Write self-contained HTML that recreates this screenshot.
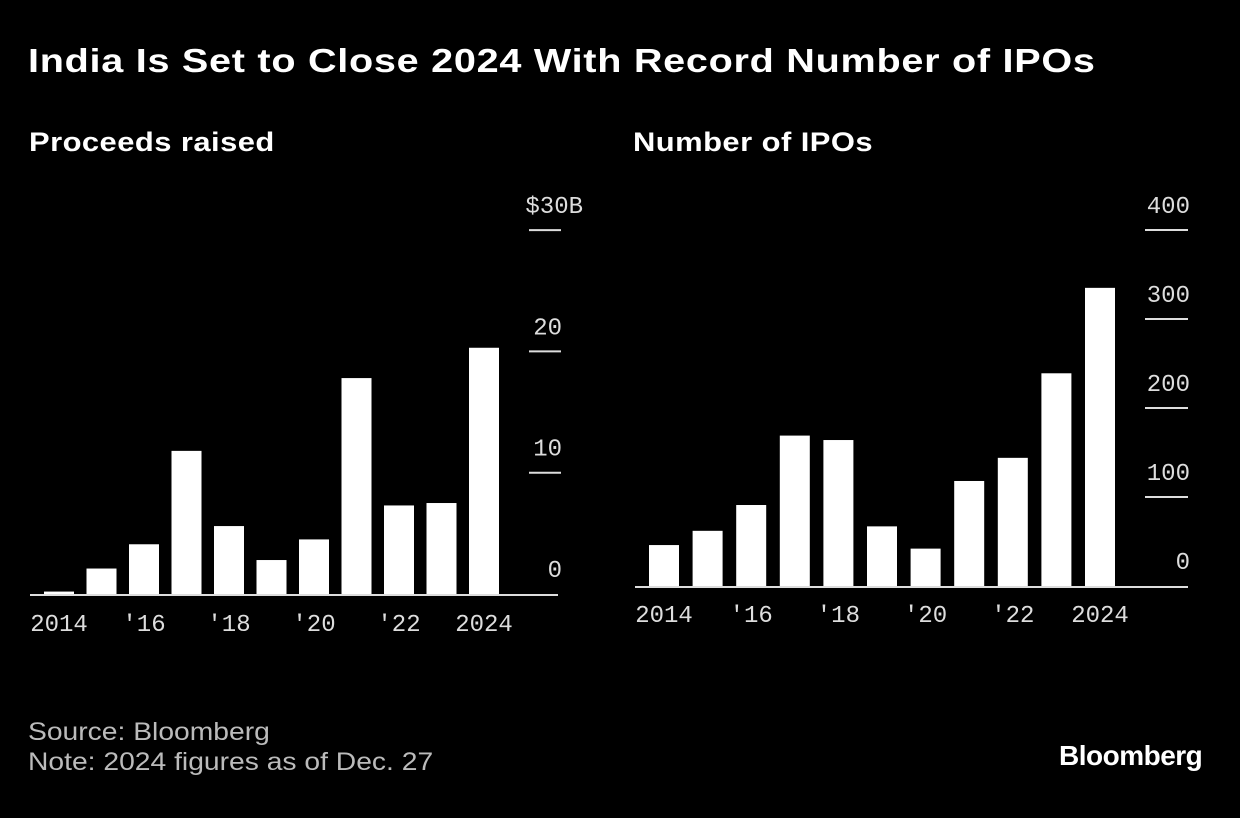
<!DOCTYPE html>
<html><head><meta charset="utf-8"><style>
body{margin:0;background:#000;width:1240px;height:818px;overflow:hidden;font-family:"Liberation Sans",sans-serif;color:#fff}
.t{position:absolute;white-space:nowrap;transform-origin:0 0}
</style></head><body>
<div class="t" style="left:28px;top:42px;font-size:33px;font-weight:bold;letter-spacing:0.6px;transform:scaleX(1.2)">India Is Set to Close 2024 With Record Number of IPOs</div>
<div class="t" style="left:29px;top:127px;font-size:27px;font-weight:bold;letter-spacing:0.4px;transform:scaleX(1.145)">Proceeds raised</div>
<div class="t" style="left:633px;top:127px;font-size:27px;font-weight:bold;letter-spacing:0.4px;transform:scaleX(1.145)">Number of IPOs</div>
<svg width="1240" height="818" style="position:absolute;left:0;top:0" id="svg"></svg>
<div class="t" style="left:28px;top:717px;font-size:25px;color:#bbb;line-height:30px;transform:scaleX(1.13)">Source: Bloomberg<br>Note: 2024 figures as of Dec. 27</div>
<div class="t" style="left:1059px;top:740px;font-size:28px;font-weight:bold;letter-spacing:-0.5px">Bloomberg</div>
<script>
const years=["2014","'15","'16","'17","'18","'19","'20","'21","'22","'23","2024"];
const xLabels=["2014","'16","'18","'20","'22","2024"];
const proceeds=[0.2,2.1,4.1,11.8,5.6,2.8,4.5,17.8,7.3,7.5,20.3];
const ipoCounts=[46,62,91,169,164,67,42,118,144,239,335];
const leftTicks=[0,10,20,30];
const leftTickLabels=["0","10","20","$30B"];
const rightTicks=[0,100,200,300,400];
const rightTickLabels=["0","100","200","300","400"];
const svg=document.getElementById('svg');
const NS='http://www.w3.org/2000/svg';
function mk(tag,a){const e=document.createElementNS(NS,tag);for(const k in a)e.setAttribute(k,a[k]);svg.appendChild(e);return e;}
function chart(cfg){
  const y=v=>cfg.base-(v-0)*cfg.scale;
  const x=i=>cfg.x0+i*cfg.step;
  cfg.ticks.forEach((t,i)=>{
    if(t>0){const l=mk('line',{x1:cfg.tx1,x2:cfg.tx2,y1:y(t),y2:y(t),stroke:'#ddd','stroke-width':2});
    
    }
    const lab=cfg.tickLabels[i];
    const ex=(cfg.id==='proceeds'&&lab.startsWith('$'))?583:cfg.labEnd;
    const tx=mk('text',{x:ex,y:y(t)-17,fill:'#ddd','font-size':24,'text-anchor':'end','font-family':'Liberation Mono, monospace'});
    tx.textContent=lab;
    
    
  });
  cfg.values.forEach((v,i)=>{
    const r=mk('rect',{x:x(i),y:y(v),width:30,height:cfg.base-y(v),fill:'#fff'});
    
    
  });
  const ax=mk('line',{x1:cfg.ax1,x2:cfg.ax2,y1:cfg.base+1,y2:cfg.base+1,stroke:'#ddd','stroke-width':2});
  
  
  xLabels.forEach((lab,j)=>{
    const t=mk('text',{x:x(j*2)+15,y:cfg.base+cfg.lblOff,fill:'#ddd','font-size':24,'text-anchor':'middle','font-family':'Liberation Mono, monospace'});
    t.textContent=lab;
    
    
  });
}
chart({id:'proceeds',values:proceeds,ticks:leftTicks,tickLabels:leftTickLabels,base:594,scale:12.13,x0:44,step:42.5,tx1:529,tx2:561,ax1:30,ax2:558,lblOff:37,labEnd:562});
chart({id:'ipos',values:ipoCounts,ticks:rightTicks,tickLabels:rightTickLabels,base:586,scale:0.89,x0:649,step:43.6,tx1:1145,tx2:1188,ax1:635,ax2:1188,lblOff:36,labEnd:1190});
const cp=document.createElementNS(NS,'rect');
cp.setAttribute('x',1189);cp.setAttribute('y',180);cp.setAttribute('width',60);cp.setAttribute('height',420);cp.setAttribute('fill','#000');


svg.appendChild(cp);
</script>
</body></html>
